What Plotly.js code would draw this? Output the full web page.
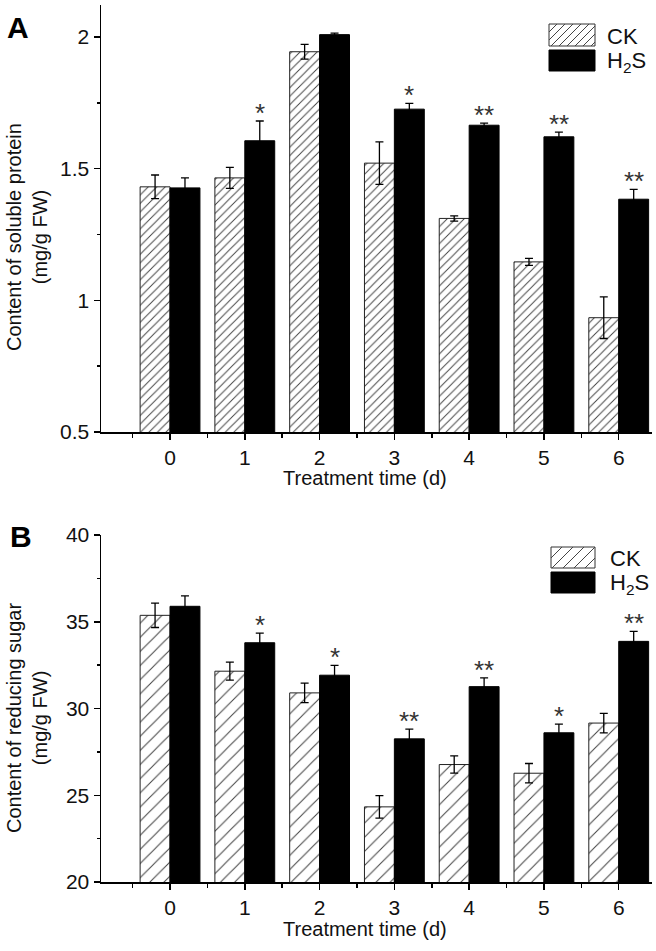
<!DOCTYPE html>
<html>
<head>
<meta charset="utf-8">
<script src="https://cdn.plot.ly/plotly-3.0.1.min.js"></script>
<style>html,body{margin:0;padding:0;background:#fff;}#chart{width:656px;height:951px;}</style>
</head>
<body>
<div id="chart"></div>
<script>
// ---- Data ----
const days = [0, 1, 2, 3, 4, 5, 6];
const dayLabels = ['0', '1', '2', '3', '4', '5', '6'];
const seriesNames = ['CK', 'H<sub>2</sub>S'];

const ckProtein = [1.431, 1.465, 1.944, 1.521, 1.311, 1.146, 0.934];
const ckProteinErr = [0.045, 0.040, 0.028, 0.081, 0.010, 0.013, 0.079];
const h2sProtein = [1.427, 1.606, 2.009, 1.726, 1.665, 1.621, 1.384];
const h2sProteinErr = [0.038, 0.075, 0.006, 0.022, 0.008, 0.018, 0.037];
const proteinSig = ['', '*', '', '*', '**', '**', '**'];

const ckSugar = [35.37, 32.15, 30.90, 24.33, 26.77, 26.27, 29.16];
const ckSugarErr = [0.70, 0.52, 0.56, 0.65, 0.50, 0.56, 0.56];
const h2sSugar = [35.89, 33.79, 31.92, 28.25, 31.26, 28.60, 33.87];
const h2sSugarErr = [0.60, 0.56, 0.56, 0.56, 0.50, 0.50, 0.58];
const sugarSig = ['', '*', '*', '**', '**', '*', '**'];

// ---- Geometry helpers (layout only) ----
const W = 656, H = 951;
const M = {l: 101, r: 4, t: 5, b: 69};
const PW = W - M.l - M.r, PH = H - M.t - M.b;
const px2x = p => (p - M.l) / PW;
const px2y = p => (H - M.b - p) / PH;

const FONT = 'Liberation Sans, Arial, Helvetica, sans-serif';
const ckMarker = {
  color: 'white',
  line: {color: '#222', width: 1},
  pattern: {shape: '/', size: 6, solidity: 0.16, fgcolor: '#444', bgcolor: 'white', fillmode: 'replace'}
};
const ckMarkerB = JSON.parse(JSON.stringify(ckMarker));
ckMarkerB.pattern.size = 10; ckMarkerB.pattern.solidity = 0.1;
const h2sMarker = {color: 'black', line: {color: 'black', width: 1}};
const errStyle = {type: 'data', visible: true, color: 'black', thickness: 1.3, width: 4};

const traces = [
  {type: 'bar', x: days, y: ckProtein, name: seriesNames[0], marker: ckMarker,
   error_y: Object.assign({array: ckProteinErr}, errStyle), xaxis: 'x', yaxis: 'y', showlegend: false},
  {type: 'bar', x: days, y: h2sProtein, name: seriesNames[1], marker: h2sMarker,
   error_y: Object.assign({array: h2sProteinErr}, errStyle), xaxis: 'x', yaxis: 'y', showlegend: false},
  {type: 'bar', x: days, y: ckSugar, name: seriesNames[0], marker: ckMarkerB,
   error_y: Object.assign({array: ckSugarErr}, errStyle), xaxis: 'x2', yaxis: 'y2', showlegend: false},
  {type: 'bar', x: days, y: h2sSugar, name: seriesNames[1], marker: h2sMarker,
   error_y: Object.assign({array: h2sSugarErr}, errStyle), xaxis: 'x2', yaxis: 'y2', showlegend: false}
];

const xAxisBase = {
  range: [-0.923, 6.445], tickmode: 'array', tickvals: days, ticktext: dayLabels,
  showline: true, linecolor: 'black', linewidth: 1.5, ticks: 'outside', ticklen: 6, tickwidth: 1.5,
  tickcolor: 'black', tickfont: {family: FONT, size: 21, color: '#111'}, showgrid: false, zeroline: false,
  minor: {ticks: 'outside', ticklen: 4, tickwidth: 1.5, tickcolor: 'black', tick0: 0, dtick: 0.5, showgrid: false},
  fixedrange: true
};
const yAxisBase = {
  showline: true, linecolor: 'black', linewidth: 1.5, ticks: 'outside', ticklen: 6, tickwidth: 1.5,
  tickcolor: 'black', tickfont: {family: FONT, size: 21, color: '#111'}, showgrid: false, zeroline: false,
  fixedrange: true
};

const annotations = [];
function addSig(sig, vals, errs, xref, yref) {
  sig.forEach((s, i) => {
    if (!s) return;
    annotations.push({x: days[i] + 0.2, y: vals[i] + errs[i], xref: xref, yref: yref, text: s,
      showarrow: false, yanchor: 'bottom', xanchor: 'center', yshift: -9,
      font: {family: FONT, size: 26, color: '#333'}});
  });
}
addSig(proteinSig, h2sProtein, h2sProteinErr, 'x', 'y');
addSig(sugarSig, h2sSugar, h2sSugarErr, 'x2', 'y2');

function paperText(text, cx, cy, opts) {
  annotations.push(Object.assign({x: px2x(cx), y: px2y(cy), xref: 'paper', yref: 'paper', text: text,
    showarrow: false, xanchor: 'center', yanchor: 'middle',
    font: {family: FONT, size: 20, color: '#111'}}, opts || {}));
}
// Axis titles
paperText('Content of soluble protein<br>(mg/g FW)', 27, 237, {textangle: -90});
paperText('Content of reducing sugar<br>(mg/g FW)', 27, 718, {textangle: -90});
paperText('Treatment time (d)', 365, 478);
paperText('Treatment time (d)', 365, 929);
// Panel letters
paperText('<b>A</b>', 18, 27, {font: {family: FONT, size: 30, color: 'black'}});
paperText('<b>B</b>', 21, 536, {font: {family: FONT, size: 30, color: 'black'}});

// Legends (boxes + labels)
const shapes = [];
function legendBox(x0, y0, x1, y1, hatched, step) {
  shapes.push({type: 'rect', xref: 'paper', yref: 'paper', x0: px2x(x0), x1: px2x(x1), y0: px2y(y1), y1: px2y(y0),
    fillcolor: hatched ? 'white' : 'black', line: {color: hatched ? '#333' : 'black', width: 1}});
  if (!hatched) return;
  const h = y1 - y0;
  for (let c = x0 - h; c < x1; c += step) {
    const t0 = Math.max(0, x0 - c), t1 = Math.min(h, x1 - c);
    if (t1 <= t0) continue;
    shapes.push({type: 'line', xref: 'paper', yref: 'paper',
      x0: px2x(c + t0), y0: px2y(y1 - t0), x1: px2x(c + t1), y1: px2y(y1 - t1),
      line: {color: '#444', width: 1}});
  }
}
legendBox(549, 24, 595, 46, true, 8);
legendBox(549, 50, 595, 71, false);
paperText(seriesNames[0], 605, 36, {xanchor: 'left', font: {family: FONT, size: 22, color: '#111'}});
paperText(seriesNames[1], 605, 62, {xanchor: 'left', font: {family: FONT, size: 22, color: '#111'}});
legendBox(551, 547, 595, 568, true, 11);
legendBox(551, 572, 595, 593, false);
paperText(seriesNames[0], 608, 558, {xanchor: 'left', font: {family: FONT, size: 22, color: '#111'}});
paperText(seriesNames[1], 608, 584, {xanchor: 'left', font: {family: FONT, size: 22, color: '#111'}});

const layout = {
  width: W, height: H, margin: M, paper_bgcolor: 'white', plot_bgcolor: 'white',
  barmode: 'group', bargap: 0.2, bargroupgap: 0, showlegend: false,
  font: {family: FONT, color: '#111'},
  xaxis: Object.assign({}, xAxisBase, {anchor: 'y', domain: [0, 1]}),
  yaxis: Object.assign({}, yAxisBase, {anchor: 'x', domain: [px2y(432), 1], range: [0.5, 2.1215],
    tickmode: 'linear', tick0: 0.5, dtick: 0.5,
    minor: {ticks: 'outside', ticklen: 3, tickwidth: 1.5, tickcolor: 'black', tick0: 0.5, dtick: 0.25, showgrid: false}}),
  xaxis2: Object.assign({}, xAxisBase, {anchor: 'y2', domain: [0, 1]}),
  yaxis2: Object.assign({}, yAxisBase, {anchor: 'x2', domain: [0, px2y(535)], range: [20, 40],
    tickmode: 'linear', tick0: 20, dtick: 5,
    minor: {ticks: 'outside', ticklen: 3, tickwidth: 1.5, tickcolor: 'black', tick0: 20, dtick: 2.5, showgrid: false}}),
  annotations: annotations,
  shapes: shapes
};

Plotly.newPlot('chart', traces, layout, {staticPlot: true, displayModeBar: false});
</script>
</body>
</html>
